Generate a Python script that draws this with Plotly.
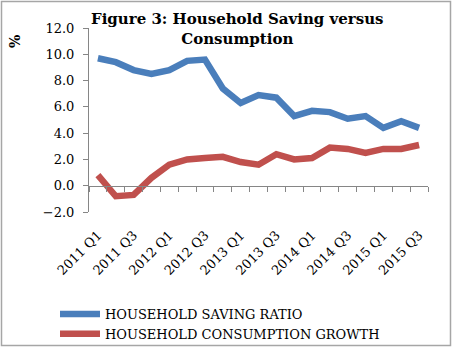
import plotly.graph_objects as go

# Quarterly categories and series (percent)
quarters = [
    "2011 Q1", "2011 Q2", "2011 Q3", "2011 Q4",
    "2012 Q1", "2012 Q2", "2012 Q3", "2012 Q4",
    "2013 Q1", "2013 Q2", "2013 Q3", "2013 Q4",
    "2014 Q1", "2014 Q2", "2014 Q3", "2014 Q4",
    "2015 Q1", "2015 Q2", "2015 Q3",
]
saving_ratio = [9.7, 9.4, 8.8, 8.5, 8.8, 9.5, 9.6, 7.4, 6.3, 6.9,
                6.7, 5.3, 5.7, 5.6, 5.1, 5.3, 4.4, 4.9, 4.4]
consumption_growth = [0.8, -0.8, -0.7, 0.6, 1.6, 2.0, 2.1, 2.2, 1.8, 1.6,
                      2.4, 2.0, 2.1, 2.9, 2.8, 2.5, 2.8, 2.8, 3.1]
y_ticks = [-2, 0, 2, 4, 6, 8, 10, 12]

BLUE = "#4A7EBB"
RED = "#C0504D"
AXIS = "#868686"
FONT = "DejaVu Serif"

W, H = 452, 348
L, R, T, B = 89, 24, 28, 136
PW, PH = W - L - R, H - T - B


def px_x(x):
    """Pixel column -> paper x."""
    return (x - L) / PW


def px_y(y):
    """Pixel row -> paper y."""
    return (H - B - y) / PH


idx = list(range(len(quarters)))
x_range = [-0.5, len(quarters) - 0.5]
y_range = [y_ticks[0], y_ticks[-1]]

fig = go.Figure()
fig.add_trace(go.Scatter(
    x=idx, y=saving_ratio, mode="lines", name="HOUSEHOLD SAVING RATIO",
    line=dict(color=BLUE, width=6.5), xaxis="x", yaxis="y",
))
fig.add_trace(go.Scatter(
    x=idx, y=consumption_growth, mode="lines", name="HOUSEHOLD CONSUMPTION GROWTH",
    line=dict(color=RED, width=6.5), xaxis="x2", yaxis="y",
))

# frame around the whole chart
fig.add_shape(type="rect", xref="paper", yref="paper",
              x0=px_x(1.5), x1=px_x(450.5), y0=px_y(345.5), y1=px_y(1.5),
              line=dict(color="#A6A6A6", width=1.5), layer="below")

# chart title
fig.add_annotation(
    text="<b>Figure 3: Household Saving versus<br>Consumption</b>",
    xref="paper", yref="paper", x=px_x(237), y=px_y(8),
    xanchor="center", yanchor="top", showarrow=False, align="center",
    font=dict(family=FONT, size=15, color="black"),
)

# y-axis unit label
fig.add_annotation(
    text="<b>%</b>", xref="paper", yref="paper",
    x=px_x(15), y=px_y(42), xanchor="center", yanchor="middle",
    showarrow=False, textangle=-90,
    font=dict(family=FONT, size=14, color="black"),
)

zero_pos = (0 - y_range[0]) / (y_range[1] - y_range[0])

fig.update_layout(
    width=W, height=H,
    margin=dict(l=L, r=R, t=T, b=B, autoexpand=False),
    paper_bgcolor="white", plot_bgcolor="white",
    font=dict(family=FONT, size=13, color="black"),
    # bottom axis carries the rotated quarter labels
    xaxis=dict(
        range=x_range, tickmode="array", tickvals=idx[::2],
        ticktext=quarters[::2], tickangle=-45, showline=False,
        ticks="", showgrid=False, zeroline=False, automargin=False,
        ticklabelstandoff=12, tickfont=dict(family=FONT, size=13),
    ),
    # category axis line drawn through zero with boundary ticks
    xaxis2=dict(
        range=x_range, overlaying="x", anchor="free", position=zero_pos,
        tickmode="array", tickvals=[i - 0.5 for i in range(len(quarters) + 1)],
        showticklabels=False, ticks="outside", ticklen=5, tickcolor=AXIS,
        showline=True, linecolor=AXIS, linewidth=1, showgrid=False,
        zeroline=False, automargin=False,
    ),
    yaxis=dict(
        range=y_range, tickmode="array", tickvals=y_ticks,
        tickformat=".1f", ticks="outside", ticklen=5, tickcolor=AXIS,
        showline=True, linecolor=AXIS, linewidth=1, showgrid=False, zeroline=False,
        ticklabelstandoff=6, tickfont=dict(family=FONT, size=13), automargin=False,
    ),
    legend=dict(
        x=px_x(55), y=px_y(299),
        xanchor="left", yanchor="top", orientation="v",
        font=dict(family=FONT, size=13), bgcolor="rgba(0,0,0,0)",
        itemwidth=40,
    ),
    showlegend=True,
)

fig.write_html("out.html")
